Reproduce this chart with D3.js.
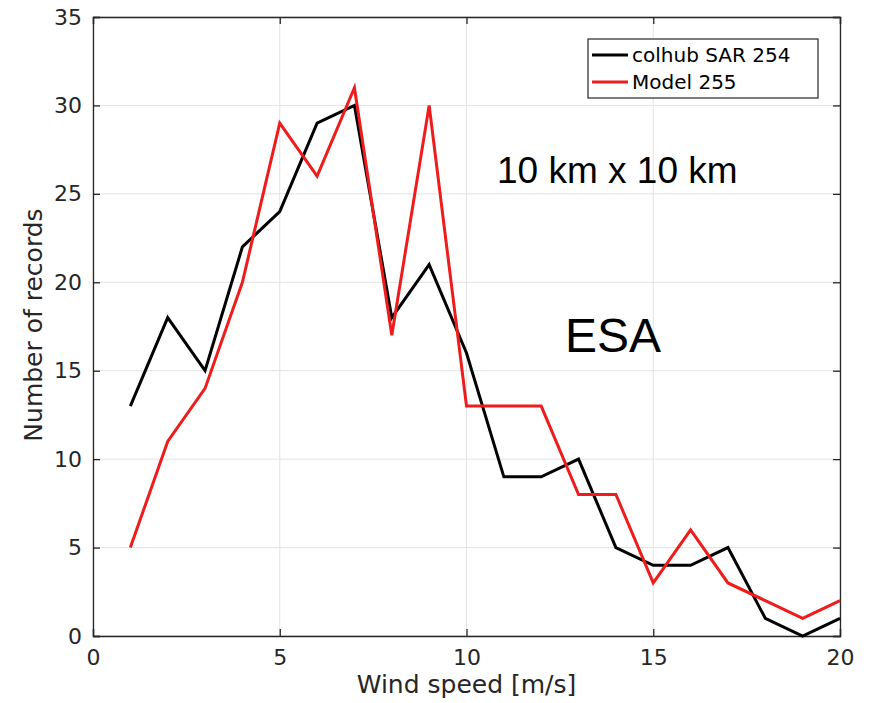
<!DOCTYPE html>
<html><head><meta charset="utf-8">
<script src="https://cdn.jsdelivr.net/npm/d3@7"></script>
<style>body{margin:0;background:#fff}svg{display:block}</style>
</head><body>
<script>
const windSpeed = [1,2,3,4,5,6,7,8,9,10,11,12,13,14,15,16,17,18,19,20];
const colhubSAR = [13,18,15,22,24,29,30,18,21,16,9,9,10,5,4,4,5,1,0,1];
const model = [5,11,14,20,29,26,31,17,30,13,13,13,8,8,3,6,3,2,1,2];
const xTicks = [0,5,10,15,20];
const yTicks = [0,5,10,15,20,25,30,35];
const seriesNames = ["colhub SAR 254","Model 255"];
const seriesColors = ["#000000","#ee1c1c"];

const W=870,H=703;
const svg=d3.select("body").append("svg").attr("width",W).attr("height",H);
const L=93,R=840,T=17,B=636;
const x=d3.scaleLinear().domain([0,20]).range([L,R]);
const y=d3.scaleLinear().domain([0,35]).range([B,T]);
const font="'DejaVu Sans', sans-serif";
const tc="#262626";

// grid
svg.append("g").selectAll("line").data(xTicks).join("line")
 .attr("x1",d=>x(d)).attr("x2",d=>x(d)).attr("y1",T).attr("y2",B)
 .attr("stroke","#e3e3e3").attr("stroke-width",1);
svg.append("g").selectAll("line").data(yTicks).join("line")
 .attr("x1",L).attr("x2",R).attr("y1",d=>y(d)).attr("y2",d=>y(d))
 .attr("stroke","#e3e3e3").attr("stroke-width",1);

// axes
const ax=d3.axisBottom(x).tickValues(xTicks).tickSize(-7).tickPadding(13).tickFormat(d3.format("d"));
const gx=svg.append("g").attr("transform",`translate(0,${B})`).call(ax);
const ay=d3.axisLeft(y).tickValues(yTicks).tickSize(-7).tickPadding(11).tickFormat(d3.format("d"));
const gy=svg.append("g").attr("transform",`translate(${L},0)`).call(ay);
const axt=d3.axisTop(x).tickValues(xTicks).tickSize(-7).tickFormat("");
const gxt=svg.append("g").attr("transform",`translate(0,${T})`).call(axt);
const ayr=d3.axisRight(y).tickValues(yTicks).tickSize(-7).tickFormat("");
const gyr=svg.append("g").attr("transform",`translate(${R},0)`).call(ayr);
[gx,gy,gxt,gyr].forEach(g=>{
  g.select(".domain").attr("stroke",tc).attr("stroke-width",1.3);
  g.selectAll(".tick line").attr("stroke",tc).attr("stroke-width",1.3);
  g.selectAll(".tick text").attr("fill",tc).attr("font-family",font).attr("font-size",22);
});

// lines
const line=d3.line().x((d,i)=>x(windSpeed[i])).y(d=>y(d));
[colhubSAR,model].forEach((s,k)=>{
  svg.append("path").datum(s).attr("d",line).attr("fill","none")
   .attr("stroke",seriesColors[k]).attr("stroke-width",3).attr("stroke-linejoin","miter");
});

// labels
svg.append("text").attr("x",(L+R)/2).attr("y",693).attr("text-anchor","middle")
 .attr("font-family",font).attr("font-size",25).attr("fill",tc).text("Wind speed [m/s]");
svg.append("text").attr("transform",`translate(42,325) rotate(-90)`).attr("text-anchor","middle")
 .attr("font-family",font).attr("font-size",25).attr("fill",tc).text("Number of records");

// annotations
svg.append("text").attr("x",497).attr("y",183).attr("font-family","'Liberation Sans', Arial, sans-serif")
 .attr("font-size",37).attr("fill","#000").text("10 km x 10 km");
svg.append("text").attr("x",565).attr("y",352).attr("font-family","'Liberation Sans', Arial, sans-serif")
 .attr("font-size",48).attr("fill","#000").text("ESA");

// legend
const lg=svg.append("g");
lg.append("rect").attr("x",588).attr("y",39).attr("width",230).attr("height",59)
 .attr("fill","#fff").attr("stroke",tc).attr("stroke-width",1.2);
seriesNames.forEach((n,k)=>{
  const yy=55+k*27;
  lg.append("line").attr("x1",592).attr("x2",628).attr("y1",yy).attr("y2",yy)
   .attr("stroke",seriesColors[k]).attr("stroke-width",3);
  lg.append("text").attr("x",632).attr("y",yy+7).attr("font-family",font).attr("font-size",20)
   .attr("fill","#000").text(n);
});
</script>
</body></html>
